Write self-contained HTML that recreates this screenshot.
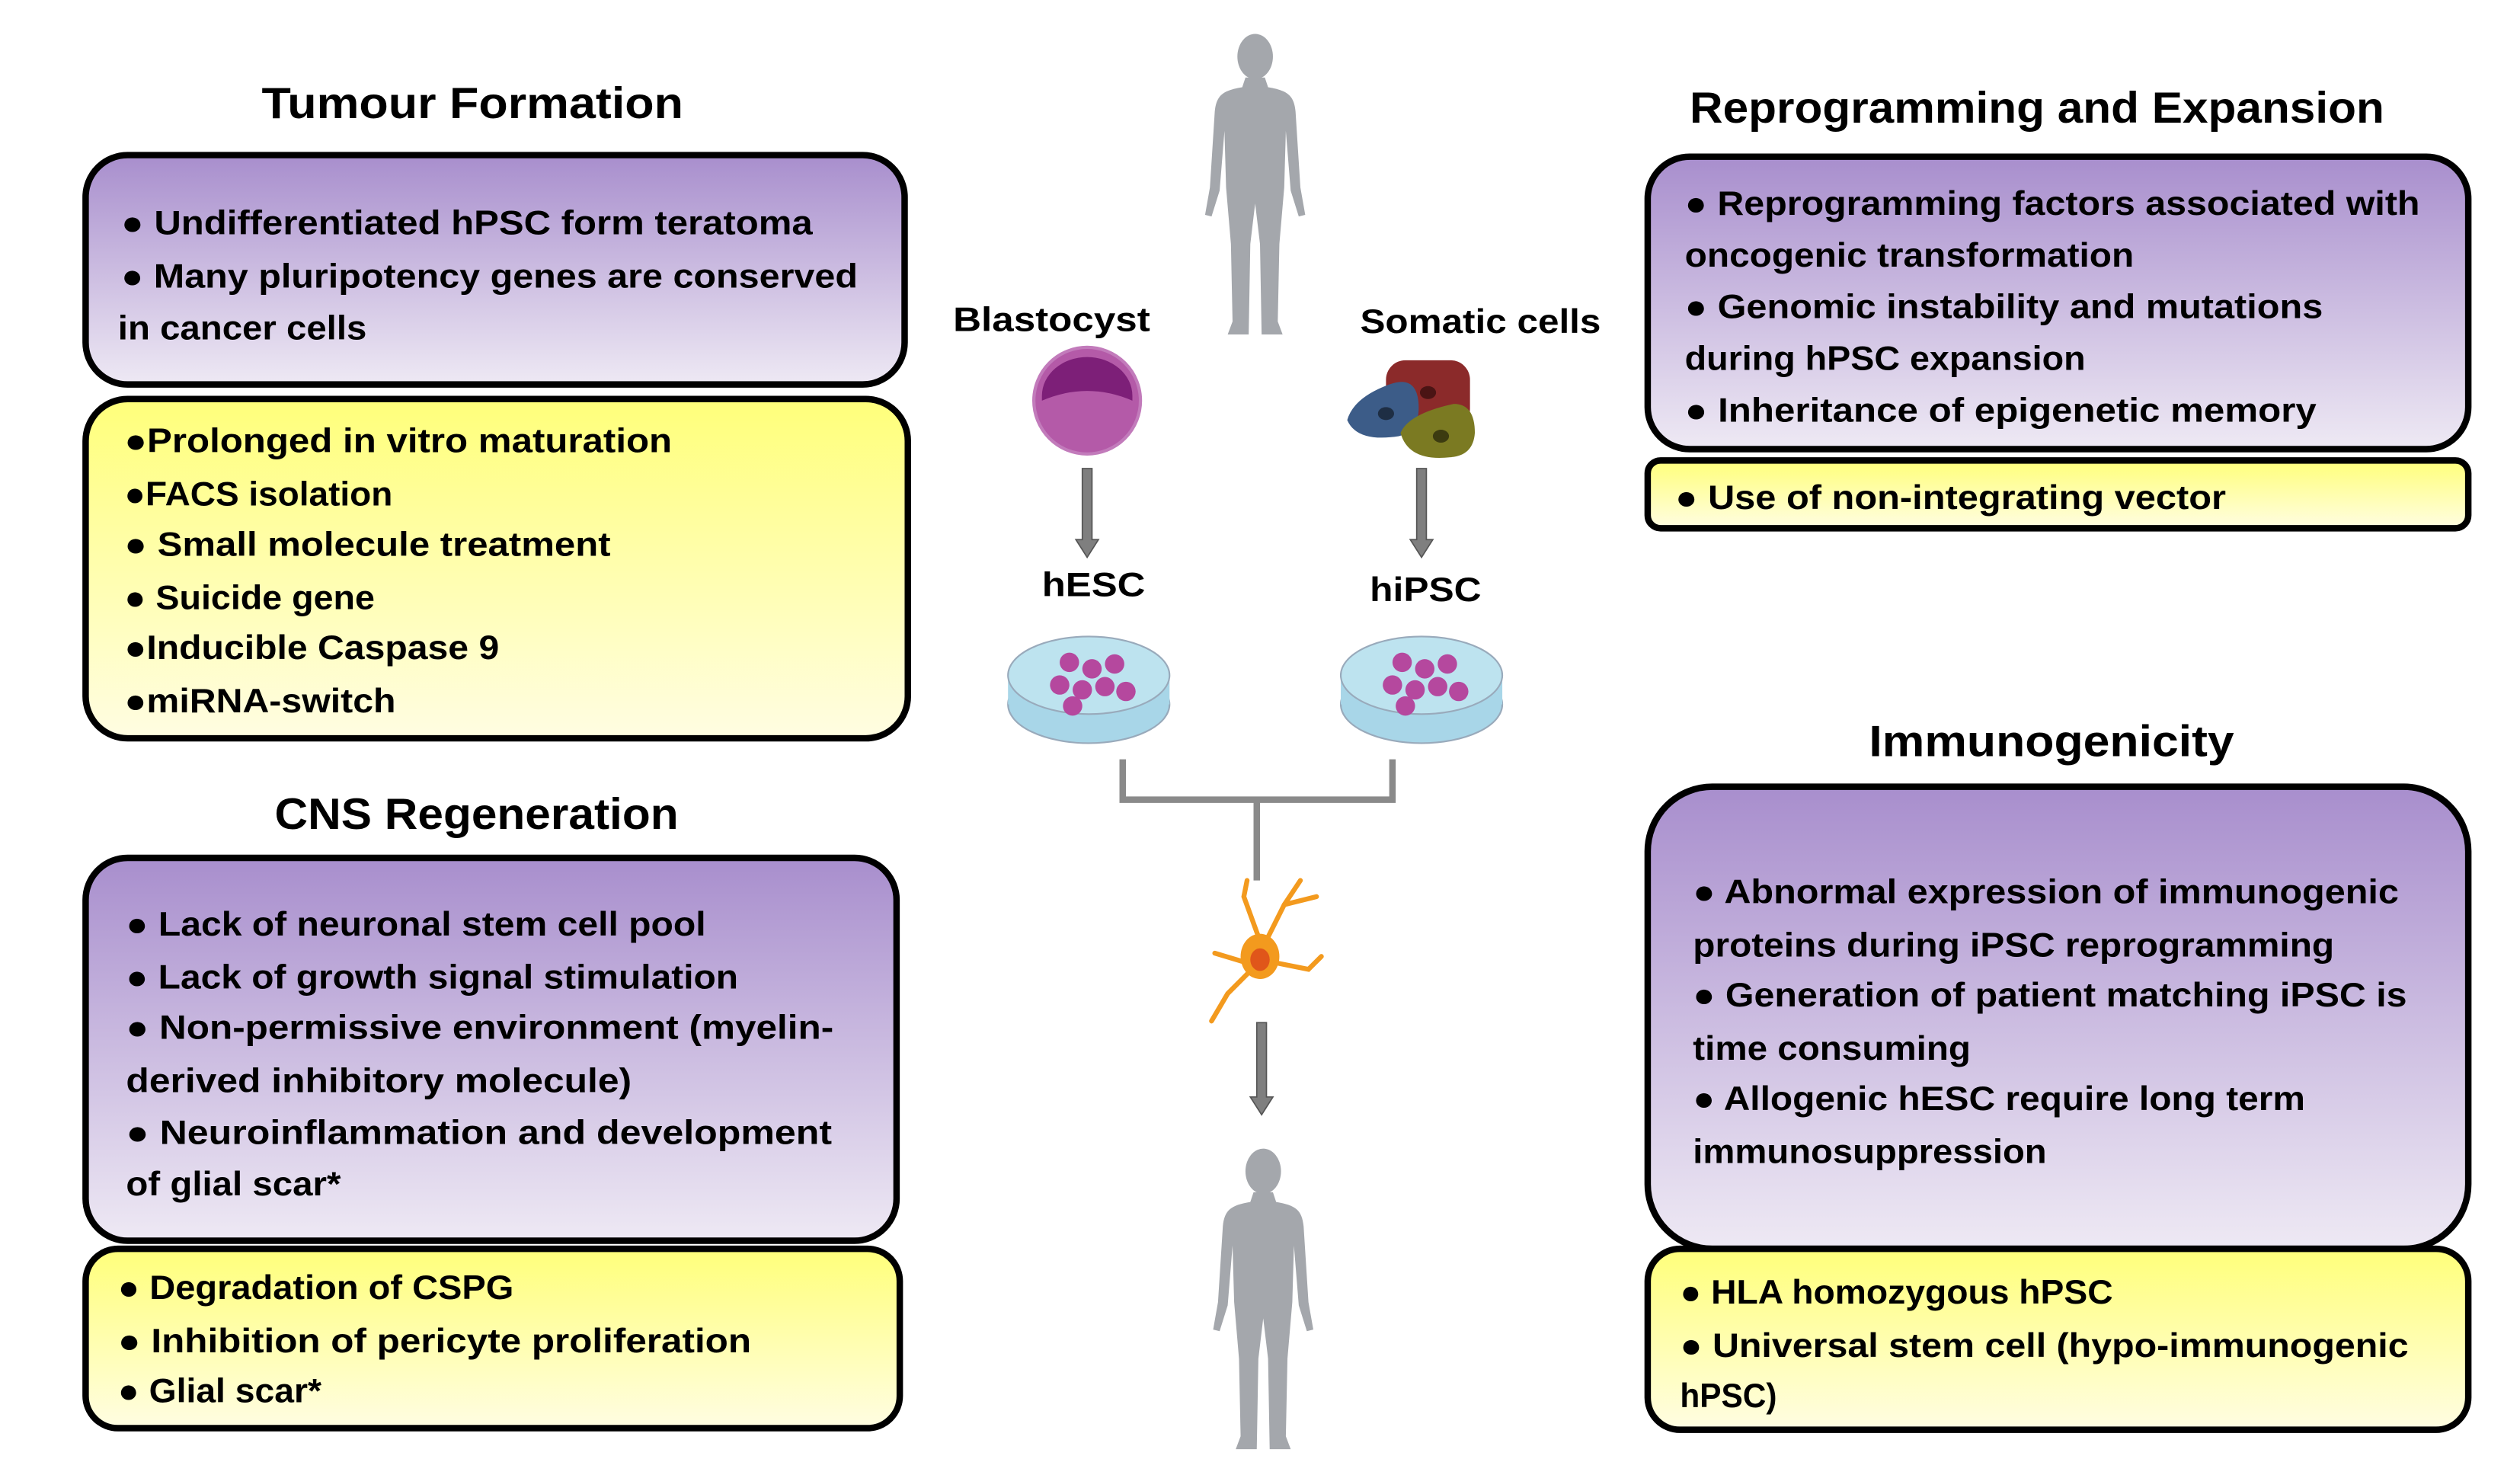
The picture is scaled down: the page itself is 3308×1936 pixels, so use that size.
<!DOCTYPE html>
<html><head><meta charset="utf-8"><style>html,body{margin:0;padding:0;background:#fff}svg{display:block}</style></head><body>
<svg xmlns="http://www.w3.org/2000/svg" width="3308" height="1936" viewBox="0 0 1560 913">
<defs>
<linearGradient id="pu" x1="0" y1="0" x2="0" y2="1"><stop offset="0" stop-color="#a88ecd"/><stop offset="1" stop-color="#eee9f4"/></linearGradient>
<linearGradient id="ye" x1="0" y1="0" x2="0" y2="1"><stop offset="0" stop-color="#ffff7a"/><stop offset="1" stop-color="#fffde2"/></linearGradient>
<g id="man" fill="#a4a7ac">
<ellipse cx="0" cy="14" rx="11" ry="14"/>
<path d="M-6,27 L6,27 L8,33 C20,35 24,38 25,48 L28,95 L31,112 L27,113 L22,97 L19,60 L18,95 L15,130 L14,178 L17,186 L4,186 L3,130 L0,105 L-3,130 L-4,186 L-17,186 L-14,178 L-15,130 L-18,95 L-19,60 L-22,97 L-27,113 L-31,112 L-28,95 L-25,48 C-24,38 -20,35 -8,33 Z"/>
</g>
</defs>
<rect width="1560" height="913" fill="#fff"/>
<g stroke="#000" stroke-width="4">
<rect x="53" y="96" width="507" height="142" rx="26" fill="url(#pu)"/>
<rect x="53" y="247" width="509" height="210" rx="26" fill="url(#ye)"/>
<rect x="53" y="531" width="502" height="237" rx="26" fill="url(#pu)"/>
<rect x="53" y="773" width="504" height="111" rx="20" fill="url(#ye)"/>
<rect x="1020" y="97" width="508" height="181" rx="26" fill="url(#pu)"/>
<rect x="1020" y="285" width="508" height="42" rx="8" fill="url(#ye)"/>
<rect x="1020" y="487" width="508" height="286" rx="40" fill="url(#pu)"/>
<rect x="1020" y="773" width="508" height="112" rx="20" fill="url(#ye)"/>
</g>
<g font-family="Liberation Sans, sans-serif" font-weight="bold" fill="#000">
<g font-size="27">
<text x="162" y="73" textLength="261" lengthAdjust="spacingAndGlyphs">Tumour Formation</text>
<text x="1046" y="76" textLength="430" lengthAdjust="spacingAndGlyphs">Reprogramming and Expansion</text>
<text x="170" y="513" textLength="250" lengthAdjust="spacingAndGlyphs">CNS Regeneration</text>
<text x="1157" y="468" textLength="226" lengthAdjust="spacingAndGlyphs">Immunogenicity</text>
</g>
<g font-size="21">
<text x="590" y="205" textLength="122" lengthAdjust="spacingAndGlyphs">Blastocyst</text>
<text x="842" y="206" textLength="149" lengthAdjust="spacingAndGlyphs">Somatic cells</text>
<text x="645" y="369" textLength="64" lengthAdjust="spacingAndGlyphs">hESC</text>
<text x="848" y="372" textLength="69" lengthAdjust="spacingAndGlyphs">hiPSC</text>
</g>
<g font-size="21">
<text x="75" y="145" textLength="428" lengthAdjust="spacingAndGlyphs">● Undifferentiated hPSC form teratoma</text>
<text x="75" y="178" textLength="456" lengthAdjust="spacingAndGlyphs">● Many pluripotency genes are conserved</text>
<text x="73" y="210" textLength="154" lengthAdjust="spacingAndGlyphs">in cancer cells</text>
<text x="77" y="280" textLength="339" lengthAdjust="spacingAndGlyphs">●Prolonged in vitro maturation</text>
<text x="77" y="313" textLength="166" lengthAdjust="spacingAndGlyphs">●FACS isolation</text>
<text x="77" y="344" textLength="301" lengthAdjust="spacingAndGlyphs">● Small molecule treatment</text>
<text x="77" y="377" textLength="155" lengthAdjust="spacingAndGlyphs">● Suicide gene</text>
<text x="77" y="408" textLength="232" lengthAdjust="spacingAndGlyphs">●Inducible Caspase 9</text>
<text x="77" y="441" textLength="168" lengthAdjust="spacingAndGlyphs">●miRNA-switch</text>
<text x="78" y="579" textLength="359" lengthAdjust="spacingAndGlyphs">● Lack of neuronal stem cell pool</text>
<text x="78" y="612" textLength="379" lengthAdjust="spacingAndGlyphs">● Lack of growth signal stimulation</text>
<text x="78" y="643" textLength="438" lengthAdjust="spacingAndGlyphs">● Non-permissive environment (myelin-</text>
<text x="78" y="676" textLength="313" lengthAdjust="spacingAndGlyphs">derived inhibitory molecule)</text>
<text x="78" y="708" textLength="437" lengthAdjust="spacingAndGlyphs">● Neuroinflammation and development</text>
<text x="78" y="740" textLength="133" lengthAdjust="spacingAndGlyphs">of glial scar*</text>
<text x="73" y="804" textLength="245" lengthAdjust="spacingAndGlyphs">● Degradation of CSPG</text>
<text x="73" y="837" textLength="392" lengthAdjust="spacingAndGlyphs">● Inhibition of pericyte proliferation</text>
<text x="73" y="868" textLength="126" lengthAdjust="spacingAndGlyphs">● Glial scar*</text>
<text x="1043" y="133" textLength="455" lengthAdjust="spacingAndGlyphs">● Reprogramming factors associated with</text>
<text x="1043" y="165" textLength="278" lengthAdjust="spacingAndGlyphs">oncogenic transformation</text>
<text x="1043" y="197" textLength="395" lengthAdjust="spacingAndGlyphs">● Genomic instability and mutations</text>
<text x="1043" y="229" textLength="248" lengthAdjust="spacingAndGlyphs">during hPSC expansion</text>
<text x="1043" y="261" textLength="391" lengthAdjust="spacingAndGlyphs">● Inheritance of epigenetic memory</text>
<text x="1037" y="315" textLength="341" lengthAdjust="spacingAndGlyphs">● Use of non-integrating vector</text>
<text x="1048" y="559" textLength="437" lengthAdjust="spacingAndGlyphs">● Abnormal expression of immunogenic</text>
<text x="1048" y="592" textLength="397" lengthAdjust="spacingAndGlyphs">proteins during iPSC reprogramming</text>
<text x="1048" y="623" textLength="442" lengthAdjust="spacingAndGlyphs">● Generation of patient matching iPSC is</text>
<text x="1048" y="656" textLength="172" lengthAdjust="spacingAndGlyphs">time consuming</text>
<text x="1048" y="687" textLength="379" lengthAdjust="spacingAndGlyphs">● Allogenic hESC require long term</text>
<text x="1048" y="720" textLength="219" lengthAdjust="spacingAndGlyphs">immunosuppression</text>
<text x="1040" y="807" textLength="268" lengthAdjust="spacingAndGlyphs">● HLA homozygous hPSC</text>
<text x="1040" y="840" textLength="451" lengthAdjust="spacingAndGlyphs">● Universal stem cell (hypo-immunogenic</text>
<text x="1040" y="871" textLength="60" lengthAdjust="spacingAndGlyphs">hPSC)</text>
</g>
</g>
<use href="#man" x="777" y="21"/>
<use href="#man" x="782" y="711"/>
<!-- blastocyst -->
<circle cx="673" cy="248" r="33" fill="#b45aa8"/>
<path d="M645,245 A28,24 0 0 1 701,245 L701,248 Q673,236 645,248 Z" fill="#7d1f78"/>
<circle cx="673" cy="248" r="33" fill="none" stroke="#c27bbb" stroke-width="2"/>
<!-- somatic cells -->
<rect x="858" y="223" width="52" height="42" rx="12" fill="#8b2a2a"/>
<ellipse cx="884" cy="243" rx="5" ry="4" fill="#4a1414"/>
<path d="M834,260 Q838,246 860,238 Q876,232 878,248 Q880,266 866,270 Q840,274 834,260 Z" fill="#3c5c88"/>
<ellipse cx="858" cy="256" rx="5" ry="4" fill="#1e2e44"/>
<path d="M867,268 Q872,256 900,250 Q913,250 913,268 Q912,282 898,283 Q872,286 867,268 Z" fill="#7b7a22"/>
<ellipse cx="892" cy="270" rx="5" ry="4" fill="#3c3b10"/>
<!-- arrows -->
<g fill="#7f7f7f" stroke="#555" stroke-width="0.8">
<path d="M670,290 h6 v44 h4 l-7,11 l-7,-11 h4 z"/>
<path d="M877,290 h6 v44 h4 l-7,11 l-7,-11 h4 z"/>
<path d="M778,633 h6 v46 h4 l-7,11 l-7,-11 h4 z"/>
</g>
<!-- dishes -->
<g>
<ellipse cx="674" cy="436" rx="50" ry="24" fill="#a8d6e8" stroke="#9ab" stroke-width="1"/>
<rect x="624" y="418" width="100" height="18" fill="#a8d6e8"/>
<ellipse cx="674" cy="418" rx="50" ry="24" fill="#bde3ef" stroke="#9ab" stroke-width="1"/>
<ellipse cx="880" cy="436" rx="50" ry="24" fill="#a8d6e8" stroke="#9ab" stroke-width="1"/>
<rect x="830" y="418" width="100" height="18" fill="#a8d6e8"/>
<ellipse cx="880" cy="418" rx="50" ry="24" fill="#bde3ef" stroke="#9ab" stroke-width="1"/>
<g fill="#b5489e">
<circle cx="662" cy="410" r="6"/><circle cx="676" cy="414" r="6"/><circle cx="690" cy="411" r="6"/><circle cx="656" cy="424" r="6"/><circle cx="670" cy="427" r="6"/><circle cx="684" cy="425" r="6"/><circle cx="697" cy="428" r="6"/><circle cx="664" cy="437" r="6"/>
<circle cx="868" cy="410" r="6"/><circle cx="882" cy="414" r="6"/><circle cx="896" cy="411" r="6"/><circle cx="862" cy="424" r="6"/><circle cx="876" cy="427" r="6"/><circle cx="890" cy="425" r="6"/><circle cx="903" cy="428" r="6"/><circle cx="870" cy="437" r="6"/>
</g>
</g>
<!-- bracket -->
<path d="M695,470 V495 H862 V470 M778,495 V545" fill="none" stroke="#8a8a8a" stroke-width="4"/>
<!-- neuron -->
<g stroke="#f39a1e" stroke-width="3" fill="none" stroke-linecap="round">
<path d="M780,590 L795,560 L805,545"/><path d="M795,560 L815,555"/><path d="M782,588 L770,555 L772,545"/><path d="M785,595 L810,600 L818,592"/><path d="M775,600 L760,615 L750,632"/><path d="M772,596 L752,590"/>
</g>
<ellipse cx="780" cy="592" rx="12" ry="14" fill="#f39a1e"/>
<ellipse cx="780" cy="594" rx="6" ry="7" fill="#e0561a"/>
</svg>
</body></html>
